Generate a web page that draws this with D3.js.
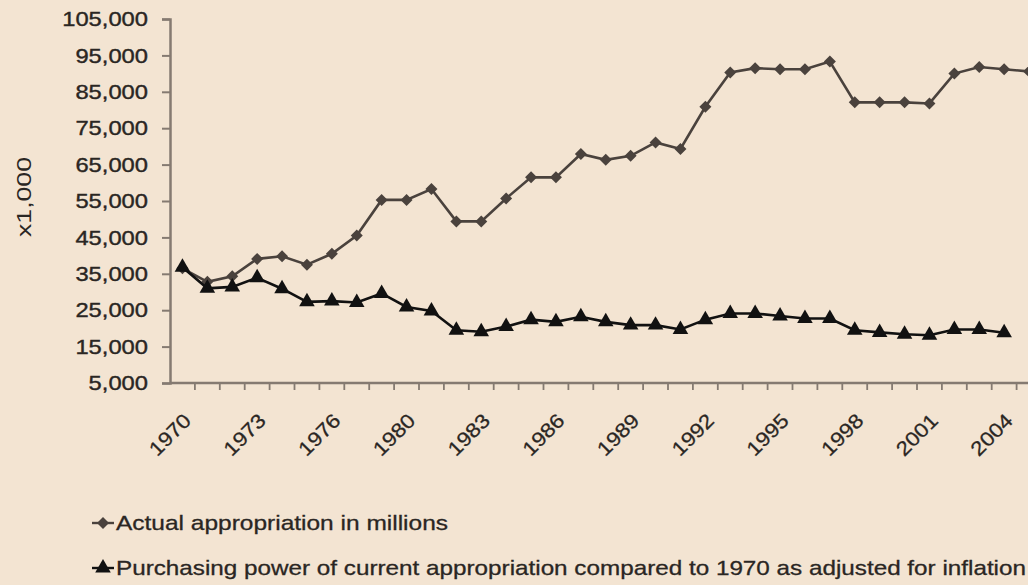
<!DOCTYPE html>
<html>
<head>
<meta charset="utf-8">
<script src="https://cdn.jsdelivr.net/npm/d3@7"></script>
<style>
  body { margin: 0; background: #f3e4d2; }
  svg { display: block; }
  text { font-family: "Liberation Sans", Arial, sans-serif; fill: #2a2623; }
</style>
</head>
<body>
<svg width="1028" height="585"></svg>
<script>
// years on the category axis (1979 is not in the source series)
var years = [1970, 1971, 1972, 1973, 1974, 1975, 1976, 1977, 1978,
  1980, 1981, 1982, 1983, 1984, 1985, 1986, 1987, 1988, 1989, 1990,
  1991, 1992, 1993, 1994, 1995, 1996, 1997, 1998, 1999, 2000, 2001,
  2002, 2003, 2004, 2005];

// Actual appropriation in millions
var actual = [36500, 32800, 34300, 39100, 39800, 37500, 40500, 45500, 55300,
  55300, 58300, 49400, 49400, 55700, 61500, 61500, 67900, 66300, 67400, 71100,
  69300, 80900, 90300, 91500, 91200, 91200, 93300, 82100, 82100, 82100, 81800,
  90000, 91800, 91200, 90600];

// Purchasing power compared to 1970
var purchasing = [36800, 31000, 31400, 33900, 30900, 27300, 27500, 27100, 29600,
  25900, 24800, 19500, 19100, 20500, 22400, 21800, 23200, 21800, 20900, 20900,
  19700, 22400, 24100, 24100, 23400, 22700, 22700, 19500, 18900, 18400, 18100,
  19700, 19700, 18800, null];

var yTicks = [5000, 15000, 25000, 35000, 45000, 55000, 65000, 75000, 85000, 95000, 105000];
var xLabels = [1970, 1973, 1976, 1980, 1983, 1986, 1989, 1992, 1995, 1998, 2001, 2004];

var legendNames = ["Actual appropriation in millions",
  "Purchasing power of current appropriation compared to 1970 as adjusted for inflation"];

var svg = d3.select("svg");
var plotLeft = 170, plotBottom = 383, plotTop = 19, step = 24.9;

var x = d3.scaleBand().domain(years).range([plotLeft, plotLeft + step * years.length]);
var y = d3.scaleLinear().domain([5000, 105000]).range([plotBottom, plotTop]);
var cx = function (d) { return x(d) + x.bandwidth() / 2; };

var axisColor = "#857a71";

// y axis
var yAxis = svg.append("g")
  .attr("transform", "translate(" + plotLeft + ",0)")
  .call(d3.axisLeft(y).tickValues(yTicks).tickFormat(d3.format(",")).tickSize(8).tickPadding(14));
yAxis.select(".domain").attr("stroke", axisColor).attr("stroke-width", 2.5);
yAxis.selectAll(".tick line").attr("stroke", axisColor).attr("stroke-width", 2);
yAxis.selectAll(".tick text")
  .attr("font-size", 21).attr("fill", "#2a2623")
  .attr("stroke", "#2a2623").attr("stroke-width", 0.4)
  .each(function () {
    var w = this.getComputedTextLength();
    d3.select(this).attr("textLength", w * 1.13).attr("lengthAdjust", "spacingAndGlyphs");
  });

// x axis: line, ticks between categories, rotated labels
var xg = svg.append("g");
xg.append("line")
  .attr("x1", plotLeft).attr("x2", x.range()[1])
  .attr("y1", plotBottom).attr("y2", plotBottom)
  .attr("stroke", axisColor).attr("stroke-width", 2.5);
xg.selectAll(".xt")
  .data(years.slice(1).concat(["end"]))
  .enter().append("line")
  .attr("x1", function (d) { return d === "end" ? x.range()[1] : x(d); })
  .attr("x2", function (d) { return d === "end" ? x.range()[1] : x(d); })
  .attr("y1", plotBottom).attr("y2", plotBottom + 7)
  .attr("stroke", axisColor).attr("stroke-width", 1.8);
xg.selectAll(".xl")
  .data(xLabels)
  .enter().append("text")
  .attr("transform", function (d) { return "translate(" + (cx(d) + 5) + "," + (plotBottom + 34) + ") rotate(-45)"; })
  .attr("text-anchor", "end")
  .attr("dy", "0.35em")
  .attr("font-size", 20)
  .attr("stroke", "#2a2623").attr("stroke-width", 0.3)
  .text(function (d) { return d; })
  .each(function () {
    var w = this.getComputedTextLength();
    d3.select(this).attr("textLength", w * 1.12).attr("lengthAdjust", "spacingAndGlyphs");
  });

// y axis title
svg.append("text")
  .attr("transform", "translate(24,197) rotate(-90)")
  .attr("text-anchor", "middle")
  .attr("dy", "0.35em")
  .attr("font-size", 20)
  .attr("fill", "#3a3531")
  .attr("textLength", 80).attr("lengthAdjust", "spacingAndGlyphs")
  .text("x1,000");

// series
var line = d3.line()
  .x(function (d) { return cx(d[0]); })
  .y(function (d) { return y(d[1]); });

var actualPts = years.map(function (yr, i) { return [yr, actual[i]]; });
var purchPts = years.map(function (yr, i) { return [yr, purchasing[i]]; })
  .filter(function (d) { return d[1] != null; });

var actualColor = "#4a423d", purchColor = "#111111";
var diamond = d3.symbol().type(d3.symbolSquare).size(72);
var triangle = d3.symbol().type(d3.symbolTriangle).size(105);

svg.append("path").datum(actualPts)
  .attr("d", line).attr("fill", "none")
  .attr("stroke", actualColor).attr("stroke-width", 2.6);
svg.selectAll(".dia").data(actualPts).enter().append("path")
  .attr("d", diamond)
  .attr("transform", function (d) { return "translate(" + cx(d[0]) + "," + y(d[1]) + ") rotate(45)"; })
  .attr("fill", actualColor);

svg.append("path").datum(purchPts)
  .attr("d", line).attr("fill", "none")
  .attr("stroke", purchColor).attr("stroke-width", 2.6);
svg.selectAll(".tri").data(purchPts).enter().append("path")
  .attr("d", triangle)
  .attr("transform", function (d) { return "translate(" + cx(d[0]) + "," + y(d[1]) + ")"; })
  .attr("fill", purchColor);

// legend
var legend = svg.append("g");
var legendY = [523, 568];
var legendLen = [332, 910];
legendNames.forEach(function (name, i) {
  var g = legend.append("g").attr("transform", "translate(0," + legendY[i] + ")");
  g.append("line").attr("x1", 92).attr("x2", 114)
    .attr("stroke", i === 0 ? actualColor : purchColor).attr("stroke-width", 2.4);
  g.append("path")
    .attr("d", i === 0 ? diamond : triangle)
    .attr("transform", "translate(103,0)" + (i === 0 ? " rotate(45)" : ""))
    .attr("fill", i === 0 ? actualColor : purchColor);
  g.append("text")
    .attr("x", 116).attr("dy", "0.35em")
    .attr("font-size", 21)
    .attr("stroke", "#2a2623").attr("stroke-width", 0.3)
    .attr("textLength", legendLen[i]).attr("lengthAdjust", "spacingAndGlyphs")
    .text(name);
});
</script>
</body>
</html>
